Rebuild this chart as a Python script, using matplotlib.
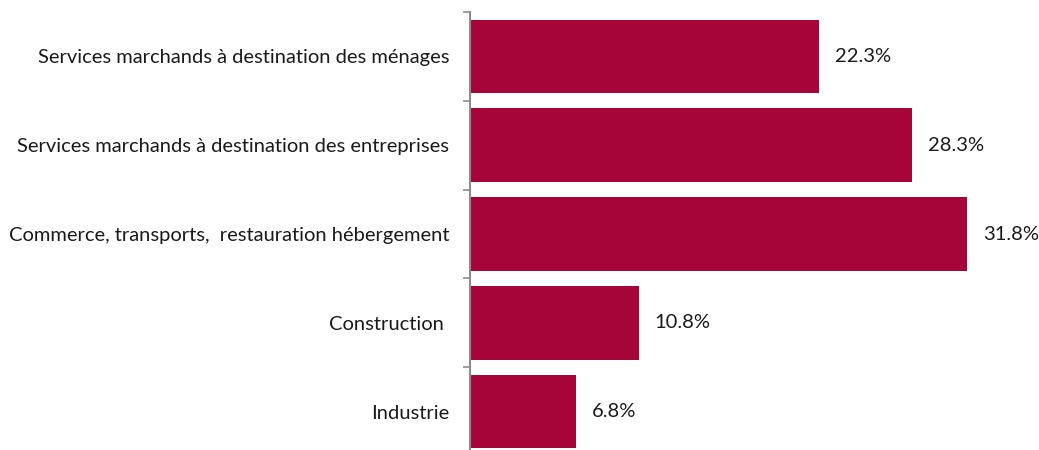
import matplotlib.pyplot as plt

# Données
categories = [
    "Services marchands à destination des ménages",
    "Services marchands à destination des entreprises",
    "Commerce, transports,  restauration hébergement",
    "Construction ",
    "Industrie",
]
values = [22.3, 28.3, 31.8, 10.8, 6.8]
value_labels = ["22.3%", "28.3%", "31.8%", "10.8%", "6.8%"]

plt.rcParams['font.family'] = ['Lato', 'DejaVu Sans']

fig = plt.figure(figsize=(10.39, 4.5), dpi=100)
ax = fig.add_axes([470 / 1039, -6 / 450, 1 - 470 / 1039, 444 / 450])

color = '#A50538'
pos = list(range(len(categories)))
ax.barh(pos, values, height=0.83, color=color)

for y, v, lab in zip(pos, values, value_labels):
    ax.annotate(lab, (v, y), xytext=(11.5, 0), textcoords='offset points',
                va='center', ha='left', fontsize=14.5, color='#1a1a1a')

ax.set_ylim(len(categories) - 0.5, -0.5)
ax.set_xlim(0, 36.4)

ax.set_yticks(pos)
ax.set_yticklabels(categories, fontsize=14.5, color='#1a1a1a')
ax.tick_params(axis='y', which='major', length=0, pad=15)
ax.set_yticks([p - 0.5 for p in pos] + [len(pos) - 0.5], minor=True)
ax.tick_params(axis='y', which='minor', length=5, width=1.2, color='#8c8c8c')
ax.set_xticks([])

for s in ['top', 'right', 'bottom']:
    ax.spines[s].set_visible(False)
ax.spines['left'].set_color('#8c8c8c')
ax.spines['left'].set_linewidth(1.5)

fig.savefig('out.png', dpi=100)
